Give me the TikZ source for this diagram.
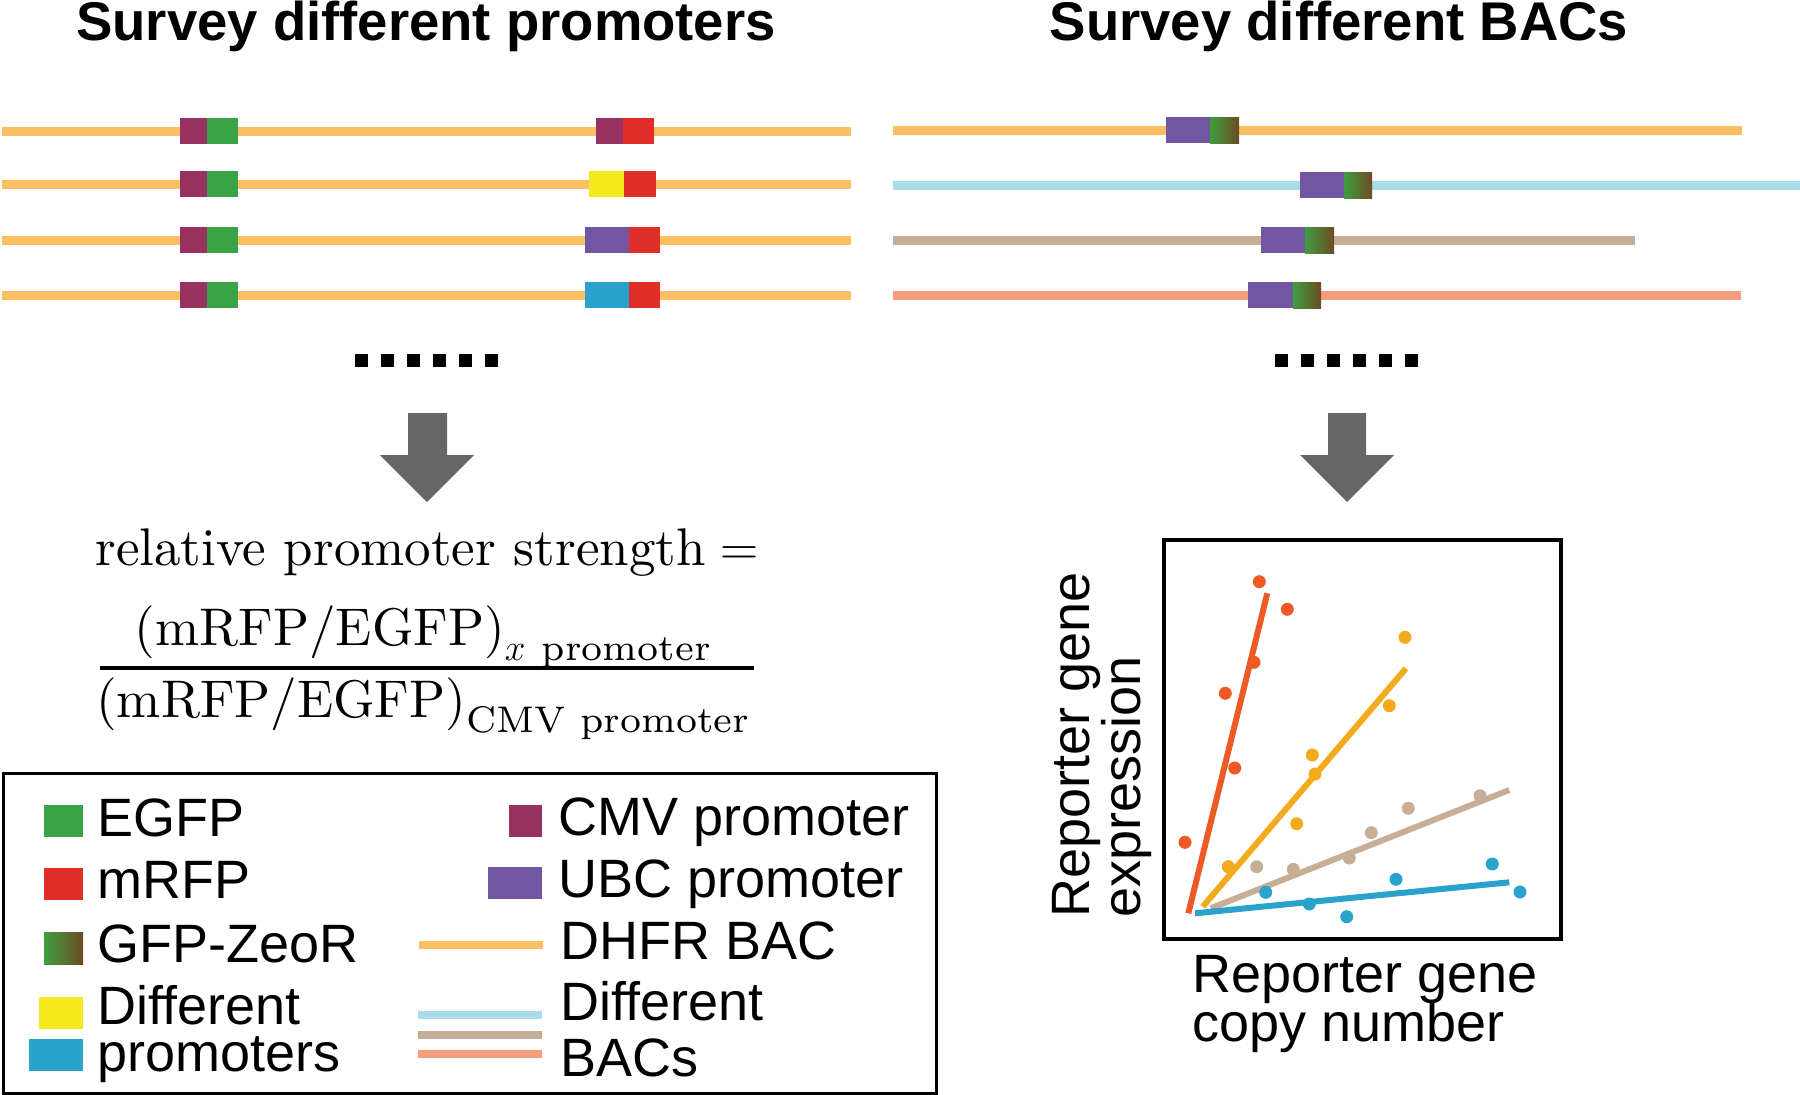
\RequirePackage{fix-cm}
\documentclass[tikz,border=0pt]{standalone}
\usepackage{amsmath}
\usepackage{fontspec}
\newfontfamily\arialfont{Liberation Sans}
\newfontfamily\lmten{lmroman10-regular.otf}
\newfontfamily\lmsev{lmroman7-regular.otf}
\definecolor{lorange}{HTML}{F9BF62}
\definecolor{lblue}{HTML}{A9DCE9}
\definecolor{ltan}{HTML}{C6AE96}
\definecolor{lsalmon}{HTML}{F59D7E}
\definecolor{cmv}{HTML}{983361}
\definecolor{egfp}{HTML}{3AA345}
\definecolor{mrfp}{HTML}{E02F28}
\definecolor{yelp}{HTML}{F6EA1E}
\definecolor{bluep}{HTML}{29A3CB}
\definecolor{ubc}{HTML}{7157A1}
\definecolor{zgreen}{HTML}{3E9E3E}
\definecolor{zbrown}{HTML}{6E4A25}
\definecolor{agray}{HTML}{666666}
\definecolor{pred}{HTML}{EE5A26}
\definecolor{porange}{HTML}{F3AA1D}
\definecolor{ptan}{HTML}{C7AF97}
\definecolor{pblue}{HTML}{2AA2CB}
\begin{document}
\begin{tikzpicture}[x=1pt,y=-1pt,
  bac/.style={line width=9pt},
  legline/.style={line width=8pt},
  zeo/.style={left color=zgreen,right color=zbrown,draw=none},
  lbl/.style={font=\arialfont\fontsize{54}{60}\selectfont,inner sep=0pt,anchor=base west},
  ttl/.style={font=\arialfont\bfseries\fontsize{54.5}{60}\selectfont,inner sep=0pt,anchor=base},
  fml/.style={inner sep=0pt,anchor=base,font=\fontsize{53}{60}\selectfont},
  fracbar/.style={line width=3.8pt},
  fitline/.style={line width=6pt},
  dotc/.style={radius=6.5pt},
  bigarrow/.style={fill=agray},
]
\useasboundingbox (0,0) rectangle (1800,1095);

% titles
\node[ttl] (t1) at (426,40) {Survey different promoters};
\node[ttl] (t2) at (1339,40) {Survey different BACs};

% left panel: BAC lines
\foreach \y in {131,184,240,295} {
  \draw[bac,lorange] (2,\y) -- (851,\y);
  \fill[cmv] (180,\y-13) rectangle (207,\y+13);
  \fill[egfp] (207,\y-13) rectangle (238,\y+13);
}
\fill[cmv] (596,118) rectangle (623,144);
\fill[mrfp] (623,118) rectangle (654,144);
\fill[yelp] (589,171) rectangle (624,197);
\fill[mrfp] (624,171) rectangle (656,197);
\fill[ubc] (585,227) rectangle (629,253);
\fill[mrfp] (629,227) rectangle (660,253);
\fill[bluep] (585,282) rectangle (629,308);
\fill[mrfp] (629,282) rectangle (660,308);

% right panel
\draw[bac,lorange] (893,130) -- (1742,130);
\draw[bac,lblue] (893,185) -- (1800,185);
\draw[bac,ltan] (893,240) -- (1635,240);
\draw[bac,lsalmon] (893,295) -- (1741,295);
\fill[ubc] (1166,117) rectangle (1210,143);
\shade[zeo] (1210,117) rectangle (1239,143);
\fill[ubc] (1300,172) rectangle (1344,198);
\shade[zeo] (1344,172) rectangle (1372,198);
\fill[ubc] (1261,227) rectangle (1305,253);
\shade[zeo] (1305,227) rectangle (1334,253);
\fill[ubc] (1248,282) rectangle (1293,308);
\shade[zeo] (1293,282) rectangle (1321,308);

% dots
\foreach \i in {0,...,5} {
  \fill (355+26*\i,354) rectangle (368+26*\i,367);
  \fill (1275+26*\i,354) rectangle (1288+26*\i,367);
}

% arrows
\fill[bigarrow] (408,413) -- (447,413) -- (447,455) -- (474,455) -- (427,502) -- (380,455) -- (408,455) -- cycle;
\fill[bigarrow] (1328,413) -- (1366,413) -- (1366,455) -- (1394,455) -- (1347,502) -- (1300,455) -- (1328,455) -- cycle;

% formula
\node[fml] (rps) at (427,565)
  {$\text{\lmten relative promoter strength} =$};
\node[fml] (num) at (423,645)
  {$\text{\lmten (mRFP/EGFP)}_{x\ \text{\lmsev promoter}}$};
\node[fml] (den) at (423,717)
  {$\text{\lmten (mRFP/EGFP)}_{\text{\lmsev CMV promoter}}$};
\draw[fracbar] (100,668) -- (754,668);

% legend
\draw[line width=3pt] (3,773) rectangle (936,1093);
\fill[egfp] (44,805) rectangle (83,837);
\fill[mrfp] (44,868) rectangle (83,900);
\shade[zeo] (44,932) rectangle (83,964);
\fill[yelp] (39,997) rectangle (83,1029);
\fill[bluep] (29,1039) rectangle (83,1071);
\fill[cmv] (509,805) rectangle (542,837);
\fill[ubc] (488,867) rectangle (542,899);
\draw[legline,lorange] (419,945) -- (543,945);
\draw[legline,lblue] (418,1014.5) -- (542,1014.5);
\draw[legline,ltan] (418,1034.5) -- (542,1034.5);
\draw[legline,lsalmon] (418,1054) -- (542,1054);
\node[lbl] (l1) at (97,836) {EGFP};
\node[lbl] (l2) at (97,898) {mRFP};
\node[lbl] (l3) at (97,962) {GFP-ZeoR};
\node[lbl] (l4) at (97,1024) {Different};
\node[lbl] (l5) at (97,1071) {promoters};
\node[lbl] (l6) at (558,835) {CMV promoter};
\node[lbl] (l7) at (558,897) {UBC promoter};
\node[lbl] (l8) at (560,959) {DHFR BAC};
\node[lbl] (l9) at (560,1020) {Different};
\node[lbl] (l10) at (560,1076) {BACs};

% plot
\draw[line width=4.5pt] (1164,540) rectangle (1561,939);
\draw[fitline,pred] (1188.3,913.3) -- (1267.3,593.3);
\draw[fitline,porange] (1202.7,906.7) -- (1406,668.3);
\draw[fitline,ptan] (1210.7,908.3) -- (1509.3,790);
\draw[fitline,pblue] (1195,913.3) -- (1509.3,882.3);
\foreach \p in {(1259.3,581.7),(1287.3,609.3),(1254,662.3),(1225.3,693.3),(1234.7,768),(1185,842.3)}
  \fill[pred] \p circle[dotc];
\foreach \p in {(1405,637.3),(1389.3,705.7),(1312.3,755),(1315,774),(1296.7,823.7),(1228.3,866.7)}
  \fill[porange] \p circle[dotc];
\foreach \p in {(1480,795.7),(1408.3,808.3),(1371.3,832.7),(1349.3,858),(1293.3,869.3),(1256.7,866.7)}
  \fill[ptan] \p circle[dotc];
\foreach \p in {(1492.3,864),(1520,892),(1396,879.3),(1346.7,916.7),(1309.3,904),(1265.7,892.3)}
  \fill[pblue] \p circle[dotc];
\node[lbl,rotate=90] (ya) at (1089,918) {Reporter gene};
\node[lbl,rotate=90] (yb) at (1140,918) {expression};
\node[lbl] (xa) at (1192,992) {Reporter gene};
\node[lbl] (xb) at (1192,1041) {copy number};
\end{tikzpicture}
\end{document}
